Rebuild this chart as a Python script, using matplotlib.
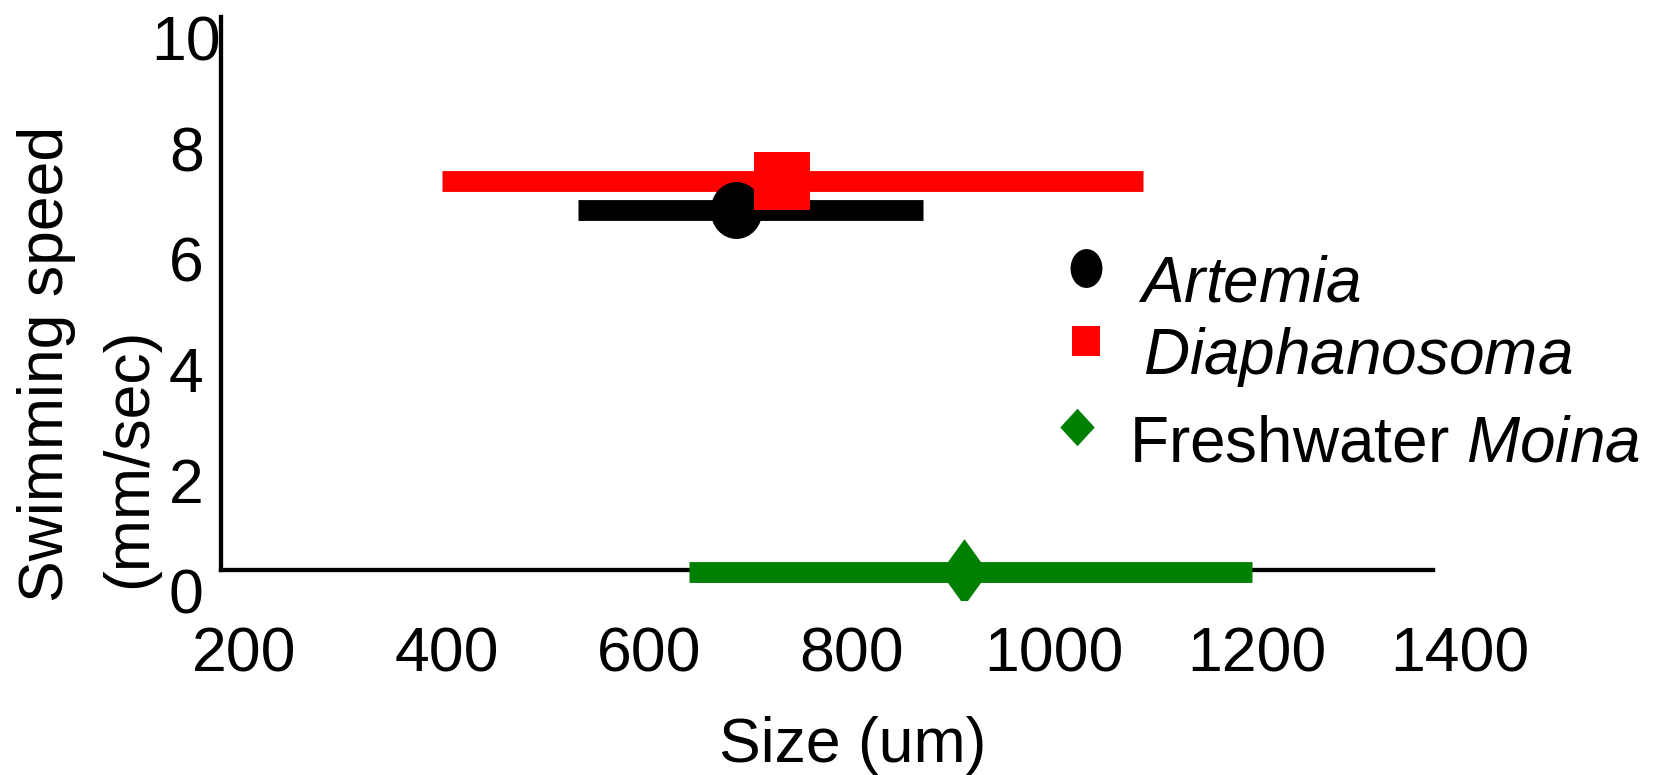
import matplotlib
matplotlib.use('Agg')
import matplotlib.pyplot as plt
from matplotlib.path import Path
from matplotlib.lines import Line2D

# data
species = ['Artemia', 'Diaphanosoma', 'Freshwater Moina']
legend_labels = [r'$\mathit{Artemia}$', r'$\mathit{Diaphanosoma}$', r'Freshwater $\mathit{Moina}$']
size_mean = [686, 731, 911]
size_low = [530, 395, 639]
size_high = [870, 1087, 1195]
speed = [6.88, 7.41, 0.33]
colors = ['black', '#ff0000', '#008000']
xticks = [200, 400, 600, 800, 1000, 1200, 1400]
yticks = [0, 2, 4, 6, 8, 10]

plt.rcParams['font.family'] = 'Liberation Sans'
plt.rcParams['mathtext.fontset'] = 'custom'
plt.rcParams['mathtext.rm'] = 'Liberation Sans'
plt.rcParams['mathtext.it'] = 'Liberation Sans:italic'
FS = 45
W, H = 1661, 775


def ellipse(w):
    c = Path.unit_circle()
    return Path(c.vertices * [w, 1.0], c.codes)


def diamond(w):
    return Path([(0, 1), (w, 0), (0, -1), (-w, 0), (0, 1)], closed=True)


def rect(w):
    return Path([(-w, -1), (w, -1), (w, 1), (-w, 1), (-w, -1)], closed=True)


markers = [ellipse(0.91), rect(0.95), diamond(0.72)]
msizes = [41, 42, 48]
leg_markers = [ellipse(0.82), rect(0.93), diamond(0.92)]
leg_sizes = [28, 22, 27]

fig = plt.figure(figsize=(W / 100, H / 100), dpi=100)
ax = fig.add_axes([0.13305, 0.22581, 0.77002, 0.75226])
ax.set_xlim(177.3, 1439.9)
ax.set_ylim(-0.181, 10.38)

# range bars
for i in [1, 0, 2]:
    ax.hlines(speed[i], size_low[i], size_high[i], color=colors[i], lw=15,
              capstyle='butt', zorder=2 + (i == 2) * 3)
# means
zo = [3, 4, 6]
for i in range(3):
    ax.plot(size_mean[i], speed[i], linestyle='none', marker=markers[i],
            markersize=msizes[i], color=colors[i], markeredgewidth=0, zorder=zo[i])

for s in ['top', 'right']:
    ax.spines[s].set_visible(False)
ax.spines['bottom'].set_position(('data', 0.362))
ax.spines['bottom'].set_bounds(177.3, 1373.8)
ax.spines['left'].set_bounds(0.362, 10.38)
for s in ['left', 'bottom']:
    ax.spines[s].set_linewidth(3.1)

ax.set_xticks(xticks)
ax.set_yticks(yticks)
ax.tick_params(length=0, labelsize=FS)
ax.tick_params(axis='x', pad=40)
ax.tick_params(axis='y', pad=25)
for t in ax.get_yticklabels():
    t.set_horizontalalignment('center')

fig.text(853 / W, 13 / H, 'Size (um)', ha='center', va='baseline', fontsize=FS)
fig.text(47 / W, 1 - 364 / H, 'Swimming speed', rotation=90, ha='center', va='center', fontsize=FS)
fig.text(130 / W, 1 - 458 / H, '(mm/sec)', rotation=90, ha='center', va='center', fontsize=FS)

# legend, laid out by hand (markers sit a little above the text centre)
leg_marker_pos = [(1086, 268), (1086, 341), (1077, 427)]
leg_text_pos = [(1138, 301), (1143, 374), (1129, 461)]
for i in range(3):
    mx, my = leg_marker_pos[i]
    fig.add_artist(Line2D([mx / W], [1 - my / H], transform=fig.transFigure, linestyle='none',
                          marker=leg_markers[i], markersize=leg_sizes[i], color=colors[i],
                          markeredgewidth=0))
    tx, ty = leg_text_pos[i]
    fig.text(tx / W, 1 - ty / H, legend_labels[i], ha='left', va='baseline', fontsize=46)

fig.savefig('out.png', dpi=100)
